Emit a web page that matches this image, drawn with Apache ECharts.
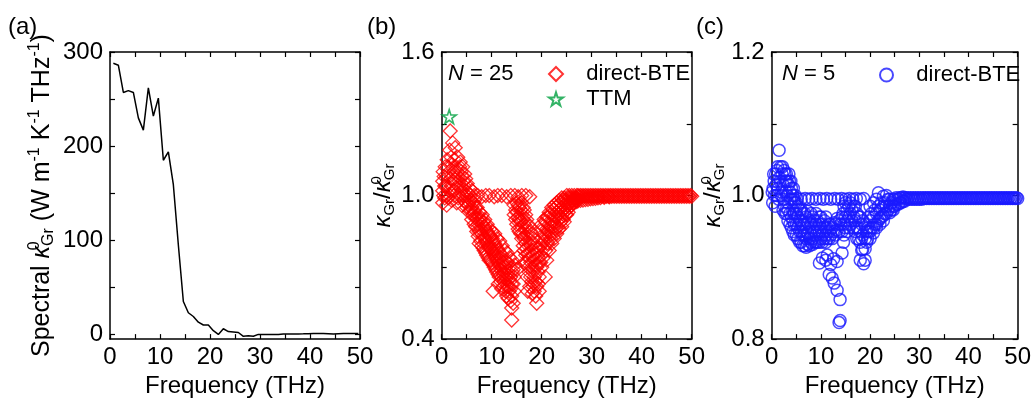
<!DOCTYPE html>
<html>
<head>
<meta charset="utf-8">
<script src="https://cdn.jsdelivr.net/npm/echarts@6/dist/echarts.min.js"></script>
<style>
  html, body { margin: 0; padding: 0; background: #fff; }
  #chart { width: 1034px; height: 403px; }
</style>
</head>
<body>
<div id="chart"></div>
<script>
// axis ticks / labels
const xTicks = [0, 5, 10, 15, 20, 25, 30, 35, 40, 45, 50]
const xLabels = [0, 10, 20, 30, 40, 50]
const aYTicks = [0, 50, 100, 150, 200, 250, 300]
const aYLabels = [0, 100, 200, 300]
const bYTicks = [0.4, 0.7, 1.0, 1.3, 1.6]
const bYLabels = [0.4, 1.0, 1.6]
const cYTicks = [0.8, 0.9, 1.0, 1.1, 1.2]
const cYLabels = [0.8, 1.0, 1.2]

// (a) spectral conductivity
const aFreq = [0.67, 1.67, 2.67, 3.67, 4.67, 5.67, 6.67, 7.67, 8.67, 9.67, 10.67, 11.67, 12.67, 13.67, 14.67,
  15.67, 16.67, 17.67, 18.67, 19.67, 20.67, 21.67, 22.67, 23.67, 24.67, 25.67, 26.67, 27.67, 28.67, 29.67,
  30.67, 31.67, 32.67, 33.67, 34.67, 35.67, 36.67, 37.67, 38.67, 39.67, 40.67, 41.67, 42.67, 43.67, 44.67,
  45.67, 46.67, 47.67, 48.67, 49.67]
const aSpec = [288, 286, 257, 259, 257, 230, 217, 262, 232, 251, 185, 194, 159, 95, 35,
  23, 19, 13, 10, 10, 4, 0, 6, 3, 2.5, 2, -2, -1.5, -2, 0,
  0, 0, 0, 0, 0.3, 0.3, 0.5, 0.5, 0.6, 0.8, 1, 1, 1, 0.8, 0.5,
  0.8, 1, 1, 1, 1]

// high-frequency plateau (shared frequency grid for b and c)
const plateauFreq = [27.25, 27.5, 27.75, 28, 28.25, 28.5, 28.75, 29, 29.25, 29.5, 29.75, 30, 30.25, 30.5, 30.75,
  31, 31.25, 31.5, 31.75, 32, 32.25, 32.5, 32.75, 33, 33.25, 33.5, 33.75, 34, 34.25, 34.5, 34.75, 35, 35.25,
  35.5, 35.75, 36, 36.25, 36.5, 36.75, 37, 37.25, 37.5, 37.75, 38, 38.25, 38.5, 38.75, 39, 39.25, 39.5, 39.75,
  40, 40.25, 40.5, 40.75, 41, 41.25, 41.5, 41.75, 42, 42.25, 42.5, 42.75, 43, 43.25, 43.5, 43.75, 44, 44.25,
  44.5, 44.75, 45, 45.25, 45.5, 45.75, 46, 46.25, 46.5, 46.75, 47, 47.25, 47.5, 47.75, 48, 48.25, 48.5, 48.75,
  49, 49.25, 49.5, 49.75, 50]
const bPlateauRatio = [1.0, 0.997, 1.0, 0.997, 1.0, 0.997, 1.0, 0.997, 1.0, 0.997,
  1.0, 0.997, 1.0, 0.997, 1.0, 0.997, 1.0, 0.997, 1.0, 0.997,
  1.0, 0.997, 1.0, 0.997, 1.0, 0.997, 1.0, 0.997, 1.0, 0.997,
  1.0, 0.997, 1.0, 0.997, 1.0, 0.997, 1.0, 0.997, 1.0, 0.997,
  1.0, 0.997, 1.0, 0.997, 1.0, 0.997, 1.0, 0.997, 1.0, 0.997,
  1.0, 0.997, 1.0, 0.997, 1.0, 0.997, 1.0, 0.997, 1.0, 0.997,
  1.0, 0.997, 1.0, 0.997, 1.0, 0.997, 1.0, 0.997, 1.0, 0.997,
  1.0, 0.997, 1.0, 0.997, 1.0, 0.997, 1.0, 0.997, 1.0, 0.997,
  1.0, 0.997, 1.0, 0.997, 1.0, 0.997, 1.0, 0.997, 1.0, 0.997,
  1.0, 0.997]
const cPlateauRatio = [0.997, 0.995, 0.997, 0.995, 0.997, 0.995, 0.997, 0.995, 0.997, 0.995,
  0.997, 0.995, 0.997, 0.995, 0.997, 0.996, 0.997, 0.996, 0.997, 0.996,
  0.997, 0.996, 0.997, 0.996, 0.997, 0.996, 0.997, 0.996, 0.997, 0.996,
  0.997, 0.996, 0.997, 0.996, 0.997, 0.996, 0.997, 0.996, 0.997, 0.996,
  0.997, 0.996, 0.997, 0.996, 0.997, 0.996, 0.997, 0.996, 0.997, 0.996,
  0.997, 0.996, 0.997, 0.996, 0.997, 0.996, 0.997, 0.996, 0.997, 0.996,
  0.997, 0.996, 0.997, 0.996, 0.997, 0.996, 0.997, 0.996, 0.997, 0.996,
  0.997, 0.996, 0.997, 0.996, 0.997, 0.996, 0.997, 0.996, 0.997, 0.996,
  0.997, 0.996, 0.997, 0.996, 0.997, 0.996, 0.997, 0.996, 0.997, 0.996,
  0.997, 0.996]

// (b) N = 25, direct-BTE  [frequency, ratio]
const bCluster = [[0.2, 0.97], [0.2, 1.02], [0.2, 1.06], [0.3, 1.10], [0.4, 1.0], [0.5, 1.08], [0.6, 0.99],
  [0.6, 1.04], [0.7, 1.12], [0.9, 1.04], [1.0, 0.96], [1.0, 1.00], [1.0, 1.08], [1.1, 1.15], [1.2, 1.12],
  [1.3, 0.99], [1.5, 1.02], [1.5, 1.10], [1.6, 1.19], [1.7, 1.27], [1.8, 1.07], [1.9, 1.16],
  [2.0, 0.98], [2.0, 1.05], [2.1, 1.13], [2.2, 1.22], [2.3, 1.02], [2.4, 1.10], [2.5, 1.00], [2.5, 1.07],
  [2.6, 1.15], [2.7, 1.20], [2.8, 1.05], [2.9, 1.12], [3.0, 0.97], [3.0, 1.03], [3.1, 1.10], [3.2, 1.16],
  [3.3, 0.99], [3.3, 1.08], [3.5, 1.00], [3.5, 1.06], [3.6, 1.12], [3.7, 1.14], [3.8, 1.04], [3.9, 1.10],
  [4.0, 0.96], [4.0, 1.02], [4.1, 1.08], [4.2, 1.12], [4.3, 1.00], [4.3, 1.06], [4.5, 0.98], [4.5, 1.04],
  [4.6, 1.09], [4.8, 0.97], [4.8, 1.02], [4.8, 1.07], [5.0, 0.95], [5.0, 1.00], [5.1, 1.05], [5.3, 0.96],
  [5.3, 1.01], [5.5, 0.93], [5.5, 0.97], [5.6, 1.03], [5.8, 0.94], [5.8, 0.98]]
const bRow = [[5.8, 1.0], [6.5, 1.0], [7.2, 1.0], [8.0, 0.995], [8.8, 1.0], [9.5, 1.0], [10.5, 0.995],
  [11.2, 1.0], [12.0, 1.0], [13.0, 0.995], [13.8, 1.0], [14.6, 1.0], [15.3, 0.995], [16.0, 1.0],
  [16.8, 1.0], [17.6, 0.995]]
const bFalling = [[6.0, 0.90], [6.0, 0.95], [6.1, 1.02], [6.3, 0.92], [6.3, 0.97], [6.5, 0.88], [6.5, 0.93],
  [6.6, 0.98], [6.8, 0.87], [6.8, 0.91], [6.8, 0.95], [7.0, 0.85], [7.0, 0.90], [7.1, 0.95], [7.3, 0.83],
  [7.3, 0.88], [7.3, 0.92], [7.5, 0.80], [7.5, 0.85], [7.6, 0.90], [7.6, 0.93], [7.8, 0.81], [7.8, 0.86],
  [7.8, 0.90], [8.0, 0.79], [8.0, 0.84], [8.1, 0.88], [8.1, 0.92], [8.3, 0.78], [8.3, 0.83], [8.3, 0.89],
  [8.5, 0.77], [8.5, 0.82], [8.6, 0.87], [8.6, 0.90], [8.8, 0.76], [8.8, 0.81], [8.8, 0.86],
  [9.0, 0.75], [9.0, 0.80], [9.1, 0.85], [9.1, 0.88], [9.3, 0.74], [9.3, 0.79], [9.3, 0.84],
  [9.5, 0.73], [9.5, 0.78], [9.6, 0.83], [9.6, 0.86], [9.8, 0.73], [9.8, 0.78], [9.8, 0.83],
  [10.0, 0.72], [10.0, 0.77], [10.1, 0.82], [10.1, 0.85], [10.3, 0.60], [10.3, 0.71], [10.3, 0.76], [10.3, 0.81],
  [10.5, 0.70], [10.5, 0.75], [10.6, 0.80], [10.6, 0.84], [10.8, 0.69], [10.8, 0.74], [10.8, 0.79],
  [11.0, 0.68], [11.0, 0.73], [11.1, 0.78], [11.1, 0.82], [11.3, 0.63], [11.3, 0.67], [11.3, 0.72], [11.3, 0.77],
  [11.5, 0.66], [11.5, 0.71], [11.6, 0.76], [11.6, 0.81], [11.8, 0.64], [11.8, 0.69], [11.8, 0.74],
  [12.0, 0.61], [12.0, 0.66], [12.0, 0.70], [12.1, 0.75], [12.1, 0.79], [12.3, 0.62], [12.3, 0.67], [12.3, 0.72],
  [12.5, 0.64], [12.5, 0.68], [12.6, 0.73], [12.6, 0.77], [12.8, 0.60], [12.8, 0.65], [12.8, 0.70],
  [13.0, 0.58], [13.0, 0.62], [13.0, 0.67], [13.1, 0.72], [13.1, 0.76], [13.3, 0.57], [13.3, 0.62], [13.3, 0.68],
  [13.5, 0.60], [13.5, 0.65], [13.6, 0.70], [13.6, 0.74], [13.8, 0.56], [13.8, 0.61], [13.8, 0.66],
  [14.0, 0.48], [14.0, 0.53], [14.0, 0.58], [14.0, 0.63], [14.1, 0.68], [14.1, 0.73],
  [14.3, 0.55], [14.3, 0.63], [14.3, 0.69], [14.5, 0.60], [14.5, 0.66], [14.6, 0.71], [15.0, 0.69], [15.1, 0.74]]
const bSecond = [[14.5, 0.96], [14.5, 0.92], [14.8, 0.94], [14.8, 0.90], [15.0, 0.97], [15.0, 0.93], [15.0, 0.88],
  [15.3, 0.96], [15.3, 0.91], [15.3, 0.86], [15.5, 0.95], [15.5, 0.90], [15.5, 0.85], [15.8, 0.94], [15.8, 0.89],
  [15.8, 0.84], [16.0, 0.97], [16.0, 0.92], [16.0, 0.87], [16.0, 0.82], [16.3, 0.95], [16.3, 0.90], [16.3, 0.84],
  [16.3, 0.79], [16.5, 0.94], [16.5, 0.88], [16.5, 0.82], [16.5, 0.77], [16.6, 0.72], [16.8, 0.92], [16.8, 0.86],
  [16.8, 0.80], [16.8, 0.75], [17.0, 0.90], [17.0, 0.84], [17.0, 0.78], [17.0, 0.72], [17.1, 0.66], [17.2, 0.60],
  [17.3, 0.88], [17.3, 0.82], [17.3, 0.76], [17.3, 0.70], [17.5, 0.87], [17.5, 0.80], [17.5, 0.74], [17.5, 0.68],
  [17.6, 0.62], [17.8, 0.85], [17.8, 0.79], [17.8, 0.72], [17.8, 0.66], [18.0, 0.84], [18.0, 0.77], [18.0, 0.70],
  [18.0, 0.64], [18.1, 0.59], [18.3, 0.82], [18.3, 0.75], [18.3, 0.68], [18.3, 0.62], [18.5, 0.80], [18.5, 0.73],
  [18.5, 0.66], [18.5, 0.60], [18.8, 0.78], [18.8, 0.71], [18.8, 0.64], [18.8, 0.58], [19.0, 0.76], [19.0, 0.70],
  [19.0, 0.62], [19.0, 0.55], [19.3, 0.74], [19.3, 0.68], [19.3, 0.63], [19.5, 0.78], [19.5, 0.72], [19.5, 0.66],
  [19.5, 0.60]]
const bRising = [[19.8, 0.85], [19.8, 0.79], [19.8, 0.72], [20.0, 0.88], [20.0, 0.82], [20.0, 0.75], [20.0, 0.70],
  [20.3, 0.87], [20.3, 0.81], [20.3, 0.74], [20.5, 0.90], [20.5, 0.84], [20.5, 0.78], [20.7, 0.66],
  [20.8, 0.89], [20.8, 0.83], [20.8, 0.77], [21.0, 0.91], [21.0, 0.86], [21.0, 0.80], [21.0, 0.73],
  [21.3, 0.91], [21.3, 0.85], [21.3, 0.80], [21.5, 0.93], [21.5, 0.88], [21.5, 0.83], [21.5, 0.77],
  [21.8, 0.92], [21.8, 0.87], [21.8, 0.82], [22.0, 0.95], [22.0, 0.90], [22.0, 0.85], [22.0, 0.80],
  [22.3, 0.94], [22.3, 0.89], [22.3, 0.84], [22.5, 0.96], [22.5, 0.92], [22.5, 0.87], [22.5, 0.82],
  [22.8, 0.95], [22.8, 0.91], [22.8, 0.86], [23.0, 0.97], [23.0, 0.93], [23.0, 0.89], [23.0, 0.84],
  [23.3, 0.96], [23.3, 0.92], [23.3, 0.87], [23.5, 0.98], [23.5, 0.94], [23.5, 0.90], [23.5, 0.86],
  [23.8, 0.97], [23.8, 0.93], [23.8, 0.89], [24.0, 0.99], [24.0, 0.95], [24.0, 0.91], [24.0, 0.87],
  [24.3, 0.98], [24.3, 0.94], [24.3, 0.90], [24.5, 0.99], [24.5, 0.96], [24.5, 0.93], [24.5, 0.89],
  [24.8, 0.98], [24.8, 0.95], [24.8, 0.92], [25.0, 1.00], [25.0, 0.97], [25.0, 0.94], [25.0, 0.92],
  [25.3, 0.99], [25.3, 0.96], [25.3, 0.93], [25.5, 1.00], [25.5, 0.97], [25.5, 0.95], [25.8, 0.99], [25.8, 0.97],
  [26.0, 1.00], [26.0, 0.98], [26.0, 0.96], [26.3, 0.99], [26.3, 0.97], [26.5, 1.00], [26.5, 0.98], [26.5, 0.97],
  [26.8, 0.99], [26.8, 0.98], [27.0, 1.00], [27.0, 0.99], [27.0, 0.975]]
const bPlateauLow = [[27.25, 0.978], [27.75, 0.98], [28.25, 0.981], [28.75, 0.983], [29.25, 0.984], [29.75, 0.986],
  [30.25, 0.987], [30.75, 0.988], [31.25, 0.99], [31.75, 0.991], [32.5, 0.993], [33.5, 0.995]]
const bTTM = [[1.5, 1.33]]

// (c) N = 5, direct-BTE  [frequency, ratio]
const cCluster = [[0.1, 1.005], [0.2, 0.99], [0.3, 1.01], [0.4, 1.03], [0.5, 1.02], [0.6, 1.0], [0.7, 0.985],
  [0.8, 1.03], [0.9, 1.015], [1.0, 1.00], [1.1, 1.035], [1.2, 1.04], [1.3, 1.01], [1.4, 0.995], [1.5, 1.063],
  [1.6, 1.025], [1.7, 1.02], [1.8, 1.04], [1.9, 1.005], [2.0, 1.00], [2.1, 1.03], [2.2, 1.04], [2.3, 1.015],
  [2.4, 0.995], [2.5, 1.035], [2.6, 0.985], [2.7, 1.03], [2.8, 1.02], [2.9, 1.005], [3.0, 1.03], [3.1, 1.02],
  [3.2, 1.00], [3.3, 0.99], [3.4, 1.015], [3.5, 1.03], [3.6, 1.02], [3.7, 1.005], [3.8, 0.995], [3.9, 1.02],
  [4.0, 1.01], [4.1, 0.995], [4.3, 1.0], [4.4, 1.01], [4.6, 0.99], [4.8, 1.0], [5.0, 0.99]]
const cRow = [[4.5, 0.995], [5.2, 0.996], [6.0, 0.995], [6.8, 0.996], [7.5, 0.995], [8.2, 0.996], [9.0, 0.995],
  [9.8, 0.996], [10.5, 0.995], [11.2, 0.996], [12.0, 0.995], [12.8, 0.996], [13.5, 0.995], [14.2, 0.996],
  [15.0, 0.995], [15.8, 0.996], [16.5, 0.995], [17.2, 0.996], [18.0, 0.995], [18.7, 0.996]]
const cFalling = [[2.3, 0.98], [2.7, 0.975], [3.0, 0.975], [3.3, 0.965], [3.3, 0.98], [3.7, 0.96], [3.7, 0.975],
  [4.0, 0.955], [4.0, 0.97], [4.3, 0.95], [4.3, 0.965], [4.3, 0.98], [4.6, 0.945], [4.6, 0.96], [4.6, 0.975],
  [5.0, 0.945], [5.0, 0.96], [5.0, 0.975], [5.3, 0.94], [5.3, 0.955], [5.3, 0.97], [5.3, 0.985],
  [5.7, 0.935], [5.7, 0.95], [5.7, 0.965], [5.7, 0.98], [6.0, 0.935], [6.0, 0.95], [6.0, 0.965], [6.0, 0.98],
  [6.3, 0.93], [6.3, 0.945], [6.3, 0.96], [6.3, 0.975], [6.7, 0.93], [6.7, 0.945], [6.7, 0.96], [6.7, 0.975],
  [7.0, 0.928], [7.0, 0.94], [7.0, 0.955], [7.0, 0.97], [7.3, 0.932], [7.3, 0.948], [7.3, 0.962], [7.3, 0.978],
  [7.7, 0.93], [7.7, 0.94], [7.7, 0.95], [7.7, 0.965], [8.0, 0.935], [8.0, 0.945], [8.0, 0.96], [8.0, 0.975],
  [8.3, 0.932], [8.3, 0.94], [8.3, 0.955], [8.3, 0.97], [8.7, 0.935], [8.7, 0.95], [8.7, 0.965],
  [9.0, 0.935], [9.0, 0.945], [9.0, 0.96], [9.0, 0.975], [9.3, 0.935], [9.3, 0.95], [9.3, 0.965],
  [9.7, 0.935], [9.7, 0.95], [9.7, 0.96], [9.7, 0.97], [10.0, 0.94], [10.0, 0.955], [10.0, 0.97],
  [10.3, 0.935], [10.3, 0.945], [10.3, 0.96], [10.7, 0.94], [10.7, 0.95], [10.7, 0.965],
  [11.0, 0.935], [11.0, 0.945], [11.0, 0.955], [11.0, 0.97], [11.3, 0.94], [11.3, 0.955],
  [11.7, 0.94], [11.7, 0.95], [11.7, 0.96], [12.0, 0.945], [12.0, 0.96], [12.3, 0.94], [12.3, 0.955],
  [12.7, 0.95], [12.7, 0.962], [13.0, 0.945], [13.0, 0.96], [13.3, 0.952], [13.3, 0.968], [13.7, 0.95], [13.7, 0.965]]
const cTail = [[9.7, 0.906], [10.3, 0.913], [11.0, 0.91], [11.3, 0.917], [12.0, 0.904], [12.6, 0.912],
  [13.3, 0.908], [11.7, 0.89], [12.3, 0.885], [12.7, 0.878], [13.3, 0.868], [13.9, 0.855], [13.9, 0.826],
  [13.7, 0.823], [14.3, 0.92], [14.6, 0.935]]
const cSecond = [[14.0, 0.96], [14.3, 0.97], [14.3, 0.95], [14.5, 0.975], [14.7, 0.985], [14.7, 0.96], [14.7, 0.945],
  [15.0, 0.99], [15.0, 0.97], [15.0, 0.955], [15.3, 0.98], [15.3, 0.965], [15.3, 0.95], [15.7, 0.985],
  [15.7, 0.97], [15.7, 0.955], [16.0, 0.99], [16.0, 0.975], [16.0, 0.96], [16.3, 0.98], [16.3, 0.965],
  [16.7, 0.985], [16.7, 0.97], [16.7, 0.955], [17.0, 0.985], [17.0, 0.965], [17.0, 0.95],
  [17.3, 0.975], [17.3, 0.955], [17.3, 0.94], [17.7, 0.97], [17.7, 0.955], [17.7, 0.939],
  [18.0, 0.97], [18.0, 0.95], [18.0, 0.935], [18.0, 0.91], [18.3, 0.96], [18.3, 0.94], [18.3, 0.924],
  [18.5, 0.965], [18.5, 0.945], [18.5, 0.925], [18.7, 0.905], [19.0, 0.96], [19.0, 0.94], [19.0, 0.926],
  [19.0, 0.91], [19.3, 0.95], [19.3, 0.935], [19.5, 0.955], [19.5, 0.94]]
const cRising = [[19.7, 0.97], [19.7, 0.95], [20.0, 0.985], [20.0, 0.965], [20.0, 0.95], [20.0, 0.94],
  [20.3, 0.975], [20.3, 0.955], [20.7, 0.99], [20.7, 0.97], [20.7, 0.955], [20.7, 0.948], [21.0, 0.98],
  [21.0, 0.96], [21.3, 0.995], [21.3, 0.975], [21.3, 0.96], [21.3, 0.955], [21.7, 1.004], [21.7, 0.985],
  [21.7, 0.965], [22.0, 0.98], [22.0, 0.968], [22.0, 0.96], [22.3, 0.99], [22.3, 0.97], [22.7, 0.999],
  [22.7, 0.985], [22.7, 0.972], [22.7, 0.965], [23.0, 0.99], [23.0, 0.975], [23.3, 1.0], [23.3, 0.985],
  [23.3, 0.975], [23.7, 0.995], [23.7, 0.98], [24.0, 0.995], [24.0, 0.985], [24.0, 0.976], [24.3, 0.99],
  [24.3, 0.98], [24.7, 0.995], [24.7, 0.985], [24.7, 0.98], [25.0, 0.995], [25.0, 0.985], [25.3, 0.997],
  [25.3, 0.988], [25.7, 0.995], [25.7, 0.988], [26.0, 0.997], [26.0, 0.99], [26.3, 0.997], [26.3, 0.99],
  [26.7, 0.998], [26.7, 0.992], [27.0, 0.997], [27.0, 0.992]]

const fontFamily = "'Liberation Sans', Arial, sans-serif"
const black = '#000'
const starPath = 'path://M50,0L61.2,34.6L97.6,34.5L68.1,55.9L79.4,90.5L50,69L20.6,90.5L31.9,55.9L2.4,34.5L38.8,34.6Z'

const ratioRich = {
  k: { fontStyle: 'italic', fontSize: 24, fontFamily, color: black, lineHeight: 28 },
  n: { fontSize: 24, fontFamily, color: black, lineHeight: 28 },
  sub: { fontSize: 15, fontFamily, color: black, verticalAlign: 'bottom' },
  sup0: { fontSize: 15, fontFamily, color: black, verticalAlign: 'top', width: 0 }
}
const ratioName = '{k|κ}{sub|Gr}{n|/}{k|κ}{sup0|0}{sub|Gr}'

const specRich = {
  k: { fontStyle: 'italic', fontSize: 25, fontFamily, color: black, lineHeight: 30 },
  sub: { fontSize: 16, fontFamily, color: black, verticalAlign: 'bottom' },
  sup: { fontSize: 16, fontFamily, color: black, verticalAlign: 'top' },
  sup0: { fontSize: 16, fontFamily, color: black, verticalAlign: 'top', width: 0 },
  n: { fontSize: 25, fontFamily, color: black, lineHeight: 30 }
}
const specName = '{n|Spectral }{k|κ}{sup0|0}{sub|Gr}{n| (W m}{sup|-1}{n| K}{sup|-1}{n| THz}{sup|-1}{n|)}'

const grids = [
  { left: 110, top: 52, width: 250, height: 299 },
  { left: 441.7, top: 52, width: 250, height: 299 },
  { left: 771.7, top: 52, width: 250, height: 299 }
]

const lineStyle = { color: black, width: 1.5 }
const tickStyle = { color: black, width: 1.2 }

const makeX = (g, top) => ({
  type: 'value',
  gridIndex: g,
  position: top ? 'top' : 'bottom',
  min: 0,
  max: 50,
  axisLine: { show: true, onZero: false, lineStyle },
  axisTick: { show: true, inside: true, length: 5, customValues: xTicks, lineStyle: tickStyle },
  axisLabel: { show: !top, customValues: xLabels, fontSize: 24, color: black, fontFamily, margin: 6 },
  splitLine: { show: false },
  name: top ? '' : 'Frequency (THz)',
  nameLocation: 'middle',
  nameGap: 26,
  nameTextStyle: { fontSize: 24, color: black, fontFamily }
})

const makeY = (g, right, min, max, ticks, labels, fmt, name, gap, rich) => ({
  type: 'value',
  gridIndex: g,
  position: right ? 'right' : 'left',
  min,
  max,
  axisLine: { show: true, onZero: false, lineStyle },
  axisTick: { show: true, inside: true, length: 5, customValues: ticks, lineStyle: tickStyle },
  axisLabel: { show: !right, customValues: labels, formatter: fmt, fontSize: 24, color: black, fontFamily, margin: 7 },
  splitLine: { show: false },
  name: right ? '' : name,
  nameLocation: 'middle',
  nameRotate: 90,
  nameGap: gap,
  nameTextStyle: { fontSize: 24, color: black, fontFamily, rich }
})

const oneDec = (v) => v.toFixed(1)
const openStyle = (c, w) => ({ color: 'rgba(0,0,0,0)', borderColor: c, borderWidth: w })
const legendText = { fontSize: 22, color: black, fontFamily }

const option = {
  animation: false,
  backgroundColor: '#fff',
  grid: grids,
  xAxis: [makeX(0, false), makeX(0, true), makeX(1, false), makeX(1, true), makeX(2, false), makeX(2, true)],
  yAxis: [
    makeY(0, false, -5, 300, aYTicks, aYLabels, null, specName, 53, specRich),
    makeY(0, true, -5, 300, aYTicks, aYLabels),
    makeY(1, false, 0.4, 1.6, bYTicks, bYLabels, oneDec, ratioName, 41, ratioRich),
    makeY(1, true, 0.4, 1.6, bYTicks, bYLabels),
    makeY(2, false, 0.8, 1.2, cYTicks, cYLabels, oneDec, ratioName, 43, ratioRich),
    makeY(2, true, 0.8, 1.2, cYTicks, cYLabels)
  ],
  legend: [
    {
      data: ['direct-BTE N25', 'TTM'],
      orient: 'vertical',
      left: 543,
      top: 58,
      itemWidth: 14,
      itemHeight: 14,
      itemGap: 3,
      formatter: (n) => n === 'TTM' ? '   TTM' : '   direct-BTE',
      textStyle: legendText,
      selectedMode: false
    },
    {
      data: ['direct-BTE N5'],
      orient: 'vertical',
      left: 874,
      top: 59,
      itemWidth: 13,
      itemHeight: 13,
      formatter: () => '   direct-BTE',
      textStyle: legendText,
      selectedMode: false
    }
  ],
  graphic: [
    { type: 'text', left: 8, top: 15, style: { text: '(a)', fontSize: 24, fontFamily, fill: black } },
    { type: 'text', left: 367, top: 15, style: { text: '(b)', fontSize: 24, fontFamily, fill: black } },
    { type: 'text', left: 696, top: 15, style: { text: '(c)', fontSize: 24, fontFamily, fill: black } },
    {
      type: 'text', left: 448, top: 63,
      style: { text: '{i|N} = 25', fontSize: 22, fontFamily, fill: black, rich: { i: { fontStyle: 'italic', fontSize: 22, fontFamily } } }
    },
    {
      type: 'text', left: 782, top: 63,
      style: { text: '{i|N} = 5', fontSize: 22, fontFamily, fill: black, rich: { i: { fontStyle: 'italic', fontSize: 22, fontFamily } } }
    }
  ],
  series: [
    {
      type: 'line',
      xAxisIndex: 0,
      yAxisIndex: 0,
      data: aFreq.map((f, i) => [f, aSpec[i]]),
      showSymbol: false,
      lineStyle: { color: black, width: 1.5 },
      silent: true
    },
    {
      name: 'direct-BTE N25',
      type: 'scatter',
      xAxisIndex: 2,
      yAxisIndex: 2,
      symbol: 'diamond',
      symbolSize: 14,
      itemStyle: openStyle('#ff0000', 1.3),
      data: [].concat(bCluster, bRow, bFalling, bSecond, bRising, bPlateauLow,
        plateauFreq.map((f, i) => [f, bPlateauRatio[i]])),
      silent: true
    },
    {
      name: 'TTM',
      type: 'scatter',
      xAxisIndex: 2,
      yAxisIndex: 2,
      symbol: starPath,
      symbolSize: 14,
      itemStyle: openStyle('#00a040', 1.6),
      data: bTTM,
      silent: true
    },
    {
      name: 'direct-BTE N5',
      type: 'scatter',
      xAxisIndex: 4,
      yAxisIndex: 4,
      symbol: 'circle',
      symbolSize: 12,
      itemStyle: openStyle('#1a1aff', 1.5),
      data: [].concat(cCluster, cRow, cFalling, cTail, cSecond, cRising,
        plateauFreq.map((f, i) => [f, cPlateauRatio[i]])),
      silent: true
    }
  ]
}

const chart = echarts.init(document.getElementById('chart'))
chart.setOption(option)
</script>
</body>
</html>
